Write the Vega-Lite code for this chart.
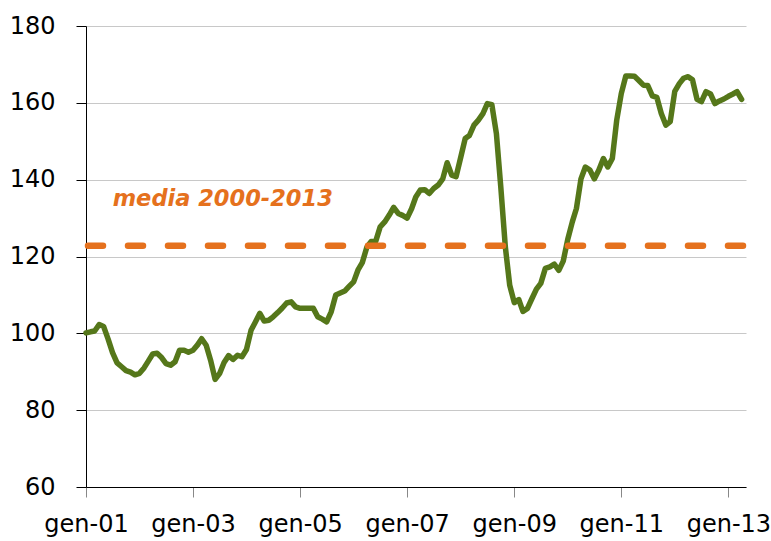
{
  "$schema": "https://vega.github.io/schema/vega-lite/v6.json",
  "width": 660,
  "height": 461,
  "autosize": {"type": "none"},
  "padding": {"left": 86, "top": 26, "right": 25, "bottom": 54},
  "background": "white",
  "config": {"view": {"stroke": null}},
  "datasets": {
    "series": [
      {"date": "2001-01-01", "value": 100.1}, {"date": "2001-02-01", "value": 100.4}, {"date": "2001-03-01", "value": 100.6}, {"date": "2001-04-01", "value": 102.3}, {"date": "2001-05-01", "value": 101.8}, {"date": "2001-06-01", "value": 98.5}, {"date": "2001-07-01", "value": 95.0}, {"date": "2001-08-01", "value": 92.3}, {"date": "2001-09-01", "value": 91.3}, {"date": "2001-10-01", "value": 90.3}, {"date": "2001-11-01", "value": 89.9}, {"date": "2001-12-01", "value": 89.2},
      {"date": "2002-01-01", "value": 89.6}, {"date": "2002-02-01", "value": 91.0}, {"date": "2002-03-01", "value": 92.7}, {"date": "2002-04-01", "value": 94.6}, {"date": "2002-05-01", "value": 94.8}, {"date": "2002-06-01", "value": 93.7}, {"date": "2002-07-01", "value": 92.1}, {"date": "2002-08-01", "value": 91.7}, {"date": "2002-09-01", "value": 92.6}, {"date": "2002-10-01", "value": 95.6}, {"date": "2002-11-01", "value": 95.6}, {"date": "2002-12-01", "value": 95.1},
      {"date": "2003-01-01", "value": 95.6}, {"date": "2003-02-01", "value": 97.0}, {"date": "2003-03-01", "value": 98.6}, {"date": "2003-04-01", "value": 96.9}, {"date": "2003-05-01", "value": 93.0}, {"date": "2003-06-01", "value": 88.0}, {"date": "2003-07-01", "value": 89.5}, {"date": "2003-08-01", "value": 92.4}, {"date": "2003-09-01", "value": 94.2}, {"date": "2003-10-01", "value": 93.2}, {"date": "2003-11-01", "value": 94.3}, {"date": "2003-12-01", "value": 93.9},
      {"date": "2004-01-01", "value": 95.8}, {"date": "2004-02-01", "value": 100.8}, {"date": "2004-03-01", "value": 102.9}, {"date": "2004-04-01", "value": 105.2}, {"date": "2004-05-01", "value": 103.2}, {"date": "2004-06-01", "value": 103.4}, {"date": "2004-07-01", "value": 104.3}, {"date": "2004-08-01", "value": 105.4}, {"date": "2004-09-01", "value": 106.6}, {"date": "2004-10-01", "value": 107.9}, {"date": "2004-11-01", "value": 108.2}, {"date": "2004-12-01", "value": 106.9},
      {"date": "2005-01-01", "value": 106.5}, {"date": "2005-02-01", "value": 106.5}, {"date": "2005-03-01", "value": 106.5}, {"date": "2005-04-01", "value": 106.5}, {"date": "2005-05-01", "value": 104.3}, {"date": "2005-06-01", "value": 103.7}, {"date": "2005-07-01", "value": 103.0}, {"date": "2005-08-01", "value": 105.6}, {"date": "2005-09-01", "value": 110.0}, {"date": "2005-10-01", "value": 110.5}, {"date": "2005-11-01", "value": 111.0}, {"date": "2005-12-01", "value": 112.2},
      {"date": "2006-01-01", "value": 113.4}, {"date": "2006-02-01", "value": 116.6}, {"date": "2006-03-01", "value": 118.4}, {"date": "2006-04-01", "value": 122.4}, {"date": "2006-05-01", "value": 123.9}, {"date": "2006-06-01", "value": 124.0}, {"date": "2006-07-01", "value": 127.7}, {"date": "2006-08-01", "value": 129.0}, {"date": "2006-09-01", "value": 130.8}, {"date": "2006-10-01", "value": 132.8}, {"date": "2006-11-01", "value": 131.2}, {"date": "2006-12-01", "value": 130.7},
      {"date": "2007-01-01", "value": 130.0}, {"date": "2007-02-01", "value": 132.5}, {"date": "2007-03-01", "value": 135.5}, {"date": "2007-04-01", "value": 137.3}, {"date": "2007-05-01", "value": 137.4}, {"date": "2007-06-01", "value": 136.4}, {"date": "2007-07-01", "value": 137.7}, {"date": "2007-08-01", "value": 138.6}, {"date": "2007-09-01", "value": 140.2}, {"date": "2007-10-01", "value": 144.4}, {"date": "2007-11-01", "value": 141.2}, {"date": "2007-12-01", "value": 140.8},
      {"date": "2008-01-01", "value": 145.7}, {"date": "2008-02-01", "value": 150.7}, {"date": "2008-03-01", "value": 151.5}, {"date": "2008-04-01", "value": 154.2}, {"date": "2008-05-01", "value": 155.5}, {"date": "2008-06-01", "value": 157.2}, {"date": "2008-07-01", "value": 159.8}, {"date": "2008-08-01", "value": 159.5}, {"date": "2008-09-01", "value": 152.0}, {"date": "2008-10-01", "value": 138.1}, {"date": "2008-11-01", "value": 122.5}, {"date": "2008-12-01", "value": 112.5},
      {"date": "2009-01-01", "value": 108.0}, {"date": "2009-02-01", "value": 108.8}, {"date": "2009-03-01", "value": 105.7}, {"date": "2009-04-01", "value": 106.5}, {"date": "2009-05-01", "value": 109.0}, {"date": "2009-06-01", "value": 111.5}, {"date": "2009-07-01", "value": 113.0}, {"date": "2009-08-01", "value": 116.9}, {"date": "2009-09-01", "value": 117.3}, {"date": "2009-10-01", "value": 118.0}, {"date": "2009-11-01", "value": 116.4}, {"date": "2009-12-01", "value": 118.8},
      {"date": "2010-01-01", "value": 124.5}, {"date": "2010-02-01", "value": 129.0}, {"date": "2010-03-01", "value": 132.5}, {"date": "2010-04-01", "value": 140.2}, {"date": "2010-05-01", "value": 143.3}, {"date": "2010-06-01", "value": 142.5}, {"date": "2010-07-01", "value": 140.2}, {"date": "2010-08-01", "value": 142.5}, {"date": "2010-09-01", "value": 145.5}, {"date": "2010-10-01", "value": 143.3}, {"date": "2010-11-01", "value": 145.5}, {"date": "2010-12-01", "value": 155.5},
      {"date": "2011-01-01", "value": 162.4}, {"date": "2011-02-01", "value": 167.0}, {"date": "2011-03-01", "value": 167.0}, {"date": "2011-04-01", "value": 166.9}, {"date": "2011-05-01", "value": 165.8}, {"date": "2011-06-01", "value": 164.6}, {"date": "2011-07-01", "value": 164.5}, {"date": "2011-08-01", "value": 161.8}, {"date": "2011-09-01", "value": 161.4}, {"date": "2011-10-01", "value": 157.2}, {"date": "2011-11-01", "value": 154.2}, {"date": "2011-12-01", "value": 155.1},
      {"date": "2012-01-01", "value": 163.0}, {"date": "2012-02-01", "value": 165.0}, {"date": "2012-03-01", "value": 166.4}, {"date": "2012-04-01", "value": 166.8}, {"date": "2012-05-01", "value": 166.0}, {"date": "2012-06-01", "value": 160.9}, {"date": "2012-07-01", "value": 160.3}, {"date": "2012-08-01", "value": 162.9}, {"date": "2012-09-01", "value": 162.3}, {"date": "2012-10-01", "value": 159.8}, {"date": "2012-11-01", "value": 160.5}, {"date": "2012-12-01", "value": 161.0},
      {"date": "2013-01-01", "value": 161.7}, {"date": "2013-02-01", "value": 162.3}, {"date": "2013-03-01", "value": 162.9}, {"date": "2013-04-01", "value": 160.9}
    ],
    "media": [{"value": 122.8}],
    "labels": [{"date": "2001-07-02", "value": 133.1, "label": "media 2000-2013"}]
  },
  "layer": [
    {
      "data": {"name": "series"},
      "mark": {"type": "line", "color": "#55771a", "strokeWidth": 5.5, "strokeJoin": "round", "strokeCap": "round"},
      "encoding": {
        "x": {
          "field": "date",
          "type": "temporal",
          "scale": {"type": "utc", "domain": [{"year": 2001, "month": 1, "date": 1, "utc": true}, {"year": 2013, "month": 5, "date": 1, "utc": true}]},
          "axis": {
            "title": null,
            "grid": false,
            "values": [
              {"year": 2001, "month": 1, "date": 1, "utc": true},
              {"year": 2003, "month": 1, "date": 1, "utc": true},
              {"year": 2005, "month": 1, "date": 1, "utc": true},
              {"year": 2007, "month": 1, "date": 1, "utc": true},
              {"year": 2009, "month": 1, "date": 1, "utc": true},
              {"year": 2011, "month": 1, "date": 1, "utc": true},
              {"year": 2013, "month": 1, "date": 1, "utc": true}
            ],
            "labelExpr": "'gen-' + utcFormat(datum.value, '%y')",
            "domainColor": "black",
            "domainWidth": 1,
            "tickColor": "#888888",
            "tickSize": 10,
            "labelFont": "DejaVu Sans",
            "labelFontSize": 24,
            "labelColor": "black",
            "labelPadding": 15,
            "labelFlush": false,
            "labelOverlap": false
          }
        },
        "y": {
          "field": "value",
          "type": "quantitative",
          "scale": {"domain": [60, 180], "nice": false, "zero": false},
          "axis": {
            "title": null,
            "values": [60, 80, 100, 120, 140, 160, 180],
            "grid": true,
            "gridColor": "#c8c8c8",
            "gridWidth": 1,
            "domainColor": "black",
            "domainWidth": 1,
            "tickColor": "black",
            "tickSize": 10,
            "labelFont": "DejaVu Sans",
            "labelFontSize": 24,
            "labelColor": "black",
            "labelPadding": 21
          }
        }
      }
    },
    {
      "data": {"name": "media"},
      "mark": {"type": "rule", "color": "#e5711d", "strokeWidth": 6.5, "strokeDash": [15, 25], "strokeDashOffset": -3, "strokeCap": "round"},
      "encoding": {"y": {"field": "value", "type": "quantitative"}}
    },
    {
      "data": {"name": "labels"},
      "mark": {"type": "text", "align": "left", "baseline": "alphabetic", "font": "DejaVu Sans", "fontSize": 22.5, "fontWeight": "bold", "fontStyle": "italic", "color": "#e5711d"},
      "encoding": {
        "x": {"field": "date", "type": "temporal"},
        "y": {"field": "value", "type": "quantitative"},
        "text": {"field": "label"}
      }
    }
  ]
}
